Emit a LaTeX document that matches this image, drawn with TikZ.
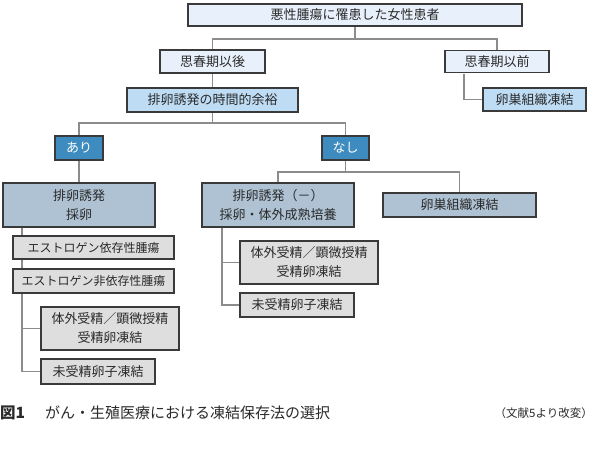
\documentclass[tikz,border=0pt]{standalone}
\usepackage{fontspec}
\newfontfamily\jp{Noto Sans CJK JP}
\definecolor{bordc}{HTML}{3A3A3A}
\definecolor{connc}{HTML}{8C8C8C}
\definecolor{textc}{HTML}{2A2A2A}
\definecolor{paleblue}{HTML}{E8F1FB}
\definecolor{midblue}{HTML}{BEDCF4}
\definecolor{darkblue}{HTML}{3D8BBF}
\definecolor{greyblue}{HTML}{AEC2D3}
\definecolor{lightgrey}{HTML}{DEDEDE}
\tikzset{
  box/.style={draw=bordc, line width=1.1pt, inner sep=0pt, text=textc, align=center,
    font=\jp\fontsize{13}{19}\selectfont},
  pale/.style={box, fill=paleblue},
  mid/.style={box, fill=midblue},
  yesno/.style={box, fill=darkblue, text=white},
  gb/.style={box, fill=greyblue},
  gr/.style={box, fill=lightgrey},
  grk/.style={gr, font=\jp\fontsize{12}{19}\selectfont},
  conn/.style={draw=connc, line width=1.4pt},
}
\begin{document}
\begin{tikzpicture}[x=1pt,y=-1pt]
\fill[white] (0,0) rectangle (595,455);
\useasboundingbox (0,0) rectangle (595,455);
% junction coordinates
\coordinate (j1) at (355,39);
\coordinate (j2) at (212.5,123);
\coordinate (j3) at (345.5,172);
\coordinate (bx) at (464,0);
\coordinate (ax) at (22,0);
\coordinate (cx) at (222,0);
% connectors first (behind boxes)
\draw[conn] (355,26) -- (j1);
\draw[conn] (212.5,50) |- (j1) -| (497,50);
\draw[conn] (212.5,73) -- (212.5,88);
\draw[conn] (212.5,112) -- (j2);
\draw[conn] (79,136) |- (j2) -| (345.5,136);
\draw[conn] (79,160) -- (79,183);
\draw[conn] (345.5,160) -- (j3);
\draw[conn] (278,183) |- (j3) -| (459.5,193);
% boxes
\node[pale, minimum width=334pt, minimum height=22pt] (top) at (355,15) {悪性腫瘍に罹患した女性患者};
\node[pale, minimum width=105pt, minimum height=23pt] (after) at (212.5,61.5) {思春期以後};
\node[pale, minimum width=104pt, minimum height=22pt] (before) at (497,61.5) {思春期以前};
\node[mid, minimum width=103pt, minimum height=23pt] (ovA) at (534.5,99.5) {卵巣組織凍結};
\node[mid, minimum width=171pt, minimum height=24pt] (time) at (212.5,100) {排卵誘発の時間的余裕};
\node[yesno, minimum width=48pt, minimum height=24pt] (ari) at (79,148) {あり};
\node[yesno, minimum width=47pt, minimum height=24pt] (nashi) at (345.5,148) {なし};
\node[gb, minimum width=152pt, minimum height=44pt] (stimA) at (79,205) {排卵誘発\\採卵};
\node[gb, minimum width=152pt, minimum height=44pt] (stimB) at (278,205) {排卵誘発（－）\\採卵・体外成熟培養};
\node[gb, minimum width=153pt, minimum height=24pt] (ovB) at (459.5,205) {卵巣組織凍結};
\node[grk, minimum width=161pt, minimum height=23pt] (edep) at (93.5,247.5) {エストロゲン依存性腫瘍};
\node[grk, minimum width=161pt, minimum height=24pt] (endep) at (93.5,281) {エストロゲン非依存性腫瘍};
\node[gr, minimum width=138pt, minimum height=43pt] (ivfA) at (110,328.5) {体外受精／顕微授精\\受精卵凍結};
\node[gr, minimum width=114pt, minimum height=25pt] (unfA) at (98,371.5) {未受精卵子凍結};
\node[gr, minimum width=138pt, minimum height=43pt] (ivfB) at (309,262.5) {体外受精／顕微授精\\受精卵凍結};
\node[gr, minimum width=114pt, minimum height=24pt] (unfB) at (297,305) {未受精卵子凍結};
% connectors attached to named nodes
\draw[conn] ([yshift=-0.55pt]before.south -| bx) |- ([xshift=-0.55pt]ovA.west);
\draw[conn] ([yshift=-0.55pt]stimA.south -| ax) -- ([yshift=0.55pt]edep.north -| ax);
\draw[conn] ([yshift=-0.55pt]edep.south -| ax) -- ([yshift=0.55pt]endep.north -| ax);
\draw[conn] ([yshift=-0.55pt]endep.south -| ax) |- ([xshift=-0.55pt]unfA.west);
\draw[conn] ([xshift=-0.55pt]ivfA.west) -- (ivfA.west -| ax);
\draw[conn] ([yshift=-0.55pt]stimB.south -| cx) |- ([xshift=-0.55pt]unfB.west);
\draw[conn] ([xshift=-0.55pt]ivfB.west) -- (ivfB.west -| cx);
% caption
\node[anchor=west, inner sep=0pt, text=textc, font=\jp\bfseries\fontsize{15.5}{18}\selectfont] (fig) at (0,413) {図1};
\node[anchor=west, inner sep=0pt, text=textc, font=\jp\fontsize{15}{18}\selectfont] (cap) at (45,413) {がん・生殖医療における凍結保存法の選択};
\node[anchor=east, inner sep=0pt, text=textc, font=\jp\fontsize{11.5}{13}\selectfont] (src) at (593,413) {（文献5より改変）};
\end{tikzpicture}
\end{document}
